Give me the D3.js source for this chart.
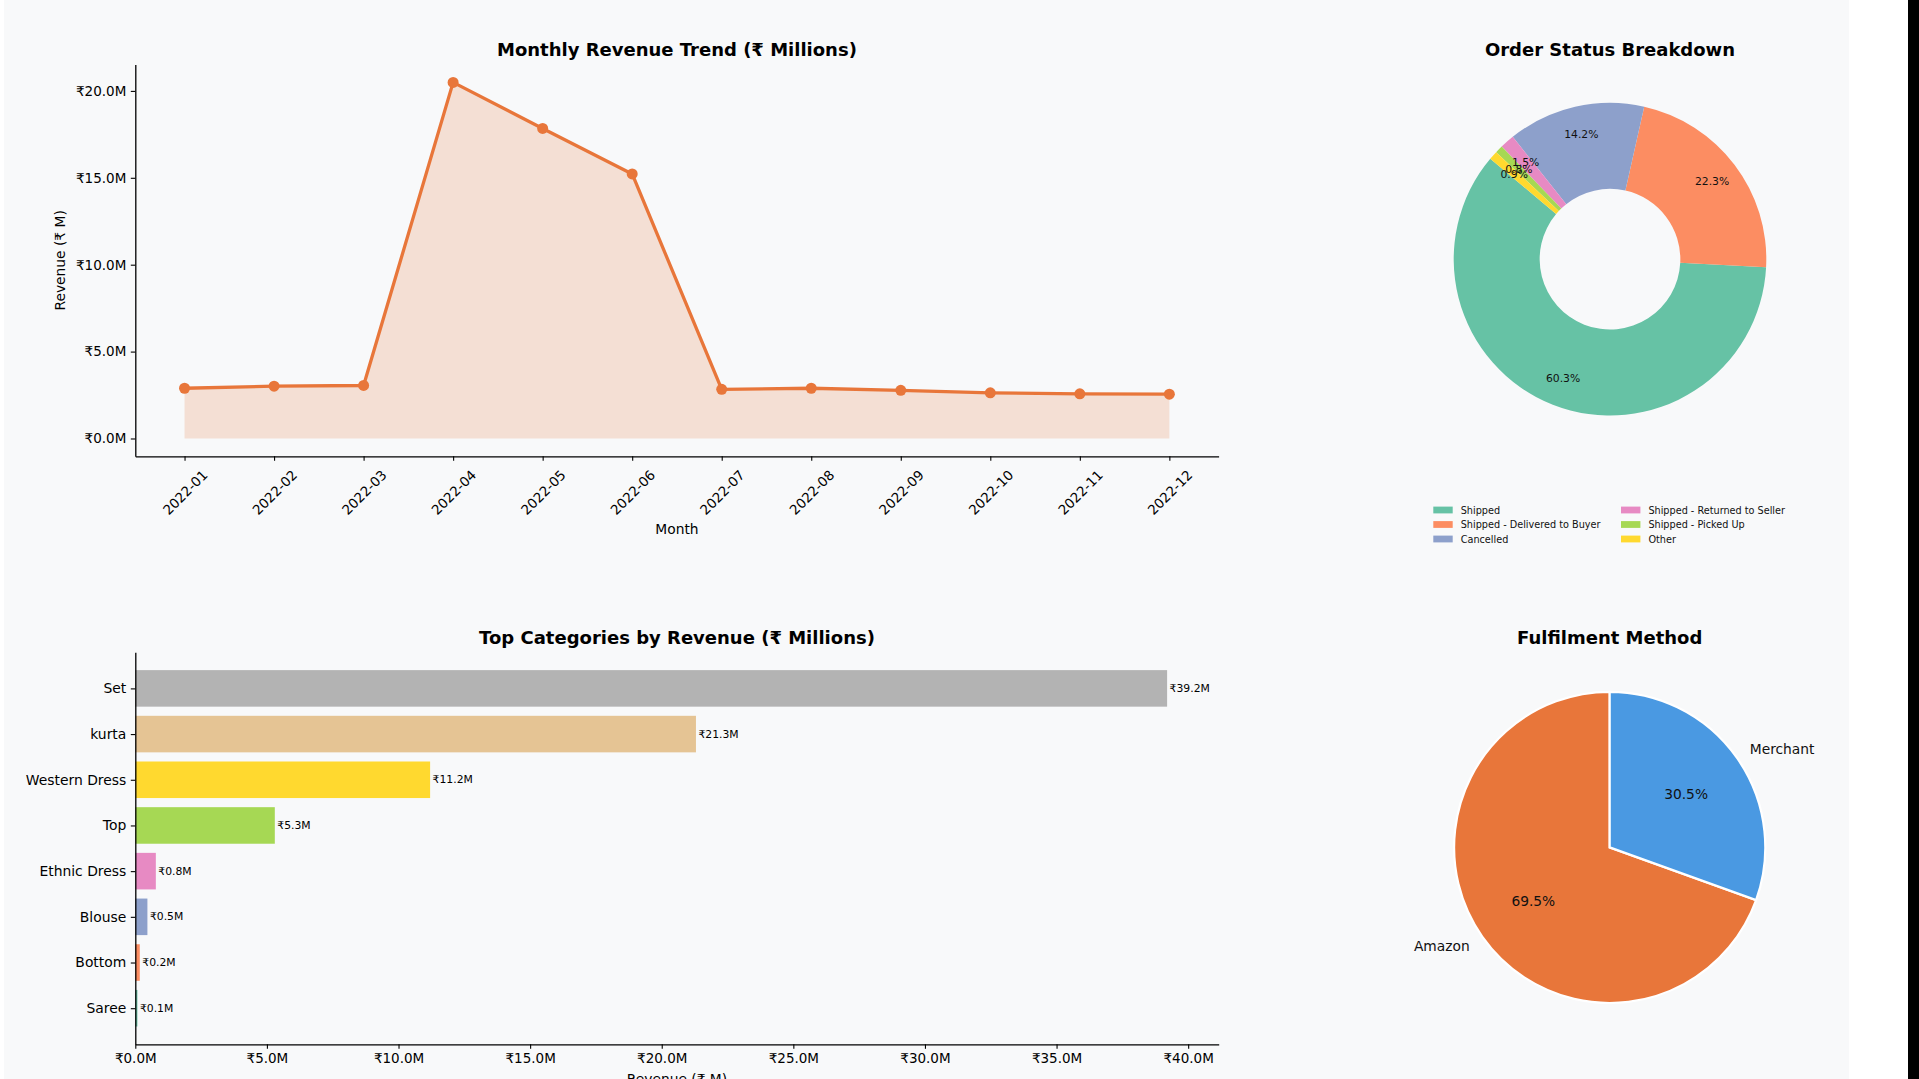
<!DOCTYPE html>
<html>
<head>
<meta charset="utf-8">
<script src="https://cdn.jsdelivr.net/npm/d3@7"></script>
<style>
  html, body { margin: 0; padding: 0; background: #ffffff; overflow: hidden; }
  svg { display: block; font-family: "DejaVu Sans", sans-serif; }
</style>
</head>
<body>
<svg id="chart" width="1919" height="1079"></svg>
<script>
// ---------------- DATA ----------------
const months = ["2022-01","2022-02","2022-03","2022-04","2022-05","2022-06",
                "2022-07","2022-08","2022-09","2022-10","2022-11","2022-12"];
const monthlyRevenue = [2.89, 3.01, 3.05, 20.49, 17.84, 15.22, 2.83, 2.89, 2.77, 2.63, 2.57, 2.55];
const revenueTicks = [0, 5, 10, 15, 20];

const categories = ["Set","kurta","Western Dress","Top","Ethnic Dress","Blouse","Bottom","Saree"];
const categoryRevenue = [39.2, 21.3, 11.2, 5.3, 0.78, 0.46, 0.17, 0.08];
const categoryColors = ["#b3b3b3","#e5c494","#ffd92f","#a6d854","#e78ac3","#8da0cb","#fc8d62","#66c2a5"];
const categoryTicks = [0, 5, 10, 15, 20, 25, 30, 35, 40];

const statusLabels = ["Shipped","Shipped - Delivered to Buyer","Cancelled",
                      "Shipped - Returned to Seller","Shipped - Picked Up","Other"];
const statusShare = [60.3, 22.3, 14.2, 1.5, 0.8, 0.9];
const statusColors = ["#66c2a5","#fc8d62","#8da0cb","#e78ac3","#a6d854","#ffd92f"];

const fulfilLabels = ["Amazon","Merchant"];
const fulfilShare = [69.5, 30.5];
const fulfilColors = ["#e8763a","#4a99e2"];

// ---------------- SETUP ----------------
const svg = d3.select("#chart");
const FONT = "DejaVu Sans, sans-serif";
const lineColor = "#e8763a";
const rupee = d => "\u20B9" + d.toFixed(1) + "M";

// backgrounds
svg.append("rect").attr("x",0).attr("y",0).attr("width",1919).attr("height",1079).attr("fill","#ffffff");
svg.append("rect").attr("x",4).attr("y",0).attr("width",1845).attr("height",1079).attr("fill","#f8f9fa");
svg.append("rect").attr("x",1908).attr("y",0).attr("width",11).attr("height",1079).attr("fill","#000000");

function styleAxis(g, fontSize) {
  g.attr("font-family", FONT).attr("font-size", fontSize);
  g.select(".domain").attr("stroke","#000").attr("stroke-width",1.3);
  g.selectAll(".tick line").attr("stroke","#000").attr("stroke-width",1.1);
  g.selectAll(".tick text").attr("fill","#000");
}

function title(x, y, txt) {
  svg.append("text").attr("x",x).attr("y",y).attr("text-anchor","middle")
    .attr("font-family",FONT).attr("font-weight","bold").attr("font-size",18)
    .attr("fill","#000").text(txt);
}

// ---------------- LINE CHART ----------------
{
  const left = 135.3, right = 1218.6, top = 64.4, bottom = 456.3;
  const x = d3.scaleLinear().domain([-0.55, months.length - 1 + 0.55]).range([left, right]);
  const y = d3.scaleLinear().domain([-1.025, 21.525]).range([bottom, top]);
  const g = svg.append("g");

  const area = d3.area().x((d,i)=>x(i)).y0(y(0)).y1(d=>y(d));
  g.append("path").datum(monthlyRevenue).attr("d",area)
    .attr("fill",lineColor).attr("fill-opacity",0.2);
  const line = d3.line().x((d,i)=>x(i)).y(d=>y(d));
  g.append("path").datum(monthlyRevenue).attr("d",line)
    .attr("fill","none").attr("stroke",lineColor).attr("stroke-width",3.3)
    .attr("stroke-linejoin","round");
  g.selectAll("circle.pt").data(monthlyRevenue).join("circle")
    .attr("cx",(d,i)=>x(i)).attr("cy",d=>y(d)).attr("r",5.5).attr("fill",lineColor);

  const ya = svg.append("g").attr("transform",`translate(${left},0)`)
    .call(d3.axisLeft(y).tickValues(revenueTicks).tickFormat(rupee).tickSize(4.5).tickPadding(4.5).tickSizeOuter(0));
  styleAxis(ya, 13.5);

  const xa = svg.append("g").attr("transform",`translate(0,${bottom})`)
    .call(d3.axisBottom(x).tickValues(d3.range(months.length)).tickFormat(i=>months[i]).tickSize(4.5).tickSizeOuter(0));
  styleAxis(xa, 13.5);
  xa.selectAll(".tick text").attr("y",0).attr("dy",null)
    .attr("transform","translate(0,36) rotate(-45)")
    .attr("text-anchor","middle").attr("dominant-baseline","central");

  svg.append("text").attr("x",(left+right)/2).attr("y",533.5).attr("text-anchor","middle")
    .attr("font-family",FONT).attr("font-size",13.8).attr("fill","#000").text("Month");
  svg.append("text").attr("transform",`translate(60.3,${(top+bottom)/2}) rotate(-90)`)
    .attr("text-anchor","middle").attr("dominant-baseline","central")
    .attr("font-family",FONT).attr("font-size",13.8).attr("fill","#000").text("Revenue (\u20B9 M)");

  title((left+right)/2, 56, "Monthly Revenue Trend (\u20B9 Millions)");
}

// ---------------- BAR CHART ----------------
{
  const left = 135.3, right = 1218.7, top = 652.3, bottom = 1044.3;
  const x = d3.scaleLinear().domain([0, d3.max(categoryRevenue)*1.05]).range([left, right]);
  const y = d3.scaleLinear().domain([-0.79, categories.length - 1 + 0.79]).range([top, bottom]);
  const bh = (y(1) - y(0)) * 0.8;
  const g = svg.append("g");

  g.selectAll("rect.bar").data(categoryRevenue).join("rect")
    .attr("x", x(0)).attr("y",(d,i)=>y(i)-bh/2)
    .attr("width", d=>x(d)-x(0)).attr("height", bh)
    .attr("fill",(d,i)=>categoryColors[i]);

  g.selectAll("text.val").data(categoryRevenue).join("text")
    .attr("x", d=>x(d)+2.5).attr("y",(d,i)=>y(i))
    .attr("dominant-baseline","central").attr("font-family",FONT).attr("font-size",10.8)
    .attr("fill","#000").text(d=>rupee(d));

  const ya = svg.append("g").attr("transform",`translate(${left},0)`)
    .call(d3.axisLeft(y).tickValues(d3.range(categories.length)).tickFormat(i=>categories[i]).tickSize(4.5).tickPadding(4.5).tickSizeOuter(0));
  styleAxis(ya, 13.9);

  const xa = svg.append("g").attr("transform",`translate(0,${bottom})`)
    .call(d3.axisBottom(x).tickValues(categoryTicks).tickFormat(rupee).tickSize(4.5).tickPadding(4.5).tickSizeOuter(0));
  styleAxis(xa, 13.5);

  svg.append("text").attr("x",(left+right)/2).attr("y",1084).attr("text-anchor","middle")
    .attr("font-family",FONT).attr("font-size",13.8).attr("fill","#000").text("Revenue (\u20B9 M)");

  title((left+right)/2, 644, "Top Categories by Revenue (\u20B9 Millions)");
}

// ---------------- DONUT ----------------
{
  const cx = 1610, cy = 259.2, R = 156.3, r0 = R*0.45;
  const toD3 = deg => (90 - deg) * Math.PI / 180;
  const a0 = toD3(140);
  const pie = d3.pie().sort(null).value(d=>d).startAngle(a0).endAngle(a0 - 2*Math.PI);
  const arcs = pie(statusShare);
  const g = svg.append("g").attr("transform",`translate(${cx},${cy})`);
  const arc = d3.arc().innerRadius(r0).outerRadius(R);
  g.selectAll("path").data(arcs).join("path").attr("d",arc)
    .attr("fill",(d,i)=>statusColors[i]);
  const lab = d3.arc().innerRadius(R*0.82).outerRadius(R*0.82);
  g.selectAll("text").data(arcs).join("text")
    .attr("transform",d=>`translate(${lab.centroid(d)})`)
    .attr("text-anchor","middle").attr("dominant-baseline","central")
    .attr("font-family",FONT).attr("font-size",10.8).attr("fill","#111")
    .text(d=>d.data.toFixed(1)+"%");

  // legend: 2 columns x 3 rows
  const lg = svg.append("g");
  const colX = [1433.3, 1621], rowY = [510, 524.5, 539];
  statusLabels.forEach((s,i)=>{
    const c = Math.floor(i/3), rr = i%3;
    lg.append("rect").attr("x",colX[c]).attr("y",rowY[rr]-3.4).attr("width",19.4).attr("height",6.8)
      .attr("fill",statusColors[i]);
    lg.append("text").attr("x",colX[c]+27.4).attr("y",rowY[rr]).attr("dominant-baseline","central")
      .attr("font-family",FONT).attr("font-size",9.7).attr("fill","#111").text(s);
  });

  title(cx, 56, "Order Status Breakdown");
}

// ---------------- PIE ----------------
{
  const cx = 1609.7, cy = 847.4, R = 155.6;
  const pie = d3.pie().sort(null).value(d=>d).startAngle(0).endAngle(-2*Math.PI);
  const arcs = pie(fulfilShare);
  const g = svg.append("g").attr("transform",`translate(${cx},${cy})`);
  const arc = d3.arc().innerRadius(0).outerRadius(R);
  g.selectAll("path").data(arcs).join("path").attr("d",arc)
    .attr("fill",(d,i)=>fulfilColors[i]).attr("stroke","#ffffff").attr("stroke-width",2.2)
    .attr("stroke-linejoin","miter");
  const pct = d3.arc().innerRadius(R*0.6).outerRadius(R*0.6);
  g.selectAll("text.pct").data(arcs).join("text")
    .attr("transform",d=>`translate(${pct.centroid(d)})`)
    .attr("text-anchor","middle").attr("dominant-baseline","central")
    .attr("font-family",FONT).attr("font-size",13.8).attr("fill","#111")
    .text(d=>d.data.toFixed(1)+"%");
  const lab = d3.arc().innerRadius(R*1.1).outerRadius(R*1.1);
  g.selectAll("text.lab").data(arcs).join("text")
    .attr("transform",d=>`translate(${lab.centroid(d)})`)
    .attr("text-anchor",d=>lab.centroid(d)[0] > 0 ? "start" : "end")
    .attr("dominant-baseline","central")
    .attr("font-family",FONT).attr("font-size",13.8).attr("fill","#111")
    .text((d,i)=>fulfilLabels[i]);

  title(cx, 644, "Fulfilment Method");
}
</script>
</body>
</html>
